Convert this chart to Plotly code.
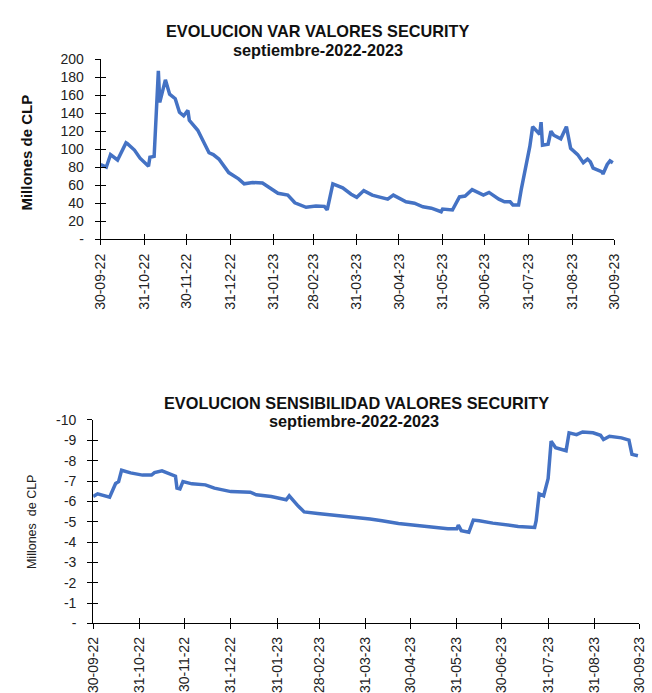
import plotly.graph_objects as go

# ---------------- data ----------------
var_dates = [
    "2022-09-30", "2022-10-04", "2022-10-07", "2022-10-12", "2022-10-18", "2022-10-19",
    "2022-10-24", "2022-10-28", "2022-11-03", "2022-11-04", "2022-11-07", "2022-11-10",
    "2022-11-11", "2022-11-15", "2022-11-18", "2022-11-22", "2022-11-25", "2022-11-28",
    "2022-12-01", "2022-12-02", "2022-12-08", "2022-12-13", "2022-12-16", "2022-12-19",
    "2022-12-23", "2022-12-30", "2023-01-06", "2023-01-10", "2023-01-16", "2023-01-23",
    "2023-01-31", "2023-02-03", "2023-02-10", "2023-02-15", "2023-02-23", "2023-03-02",
    "2023-03-08", "2023-03-10", "2023-03-14", "2023-03-21", "2023-03-27", "2023-03-31",
    "2023-04-05", "2023-04-08", "2023-04-11", "2023-04-17", "2023-04-22", "2023-04-26",
    "2023-05-05", "2023-05-11", "2023-05-17", "2023-05-23", "2023-05-30", "2023-05-31",
    "2023-06-07", "2023-06-12", "2023-06-16", "2023-06-21", "2023-06-29", "2023-07-03",
    "2023-07-10", "2023-07-14", "2023-07-18", "2023-07-20", "2023-07-24", "2023-07-26",
    "2023-07-31", "2023-08-01", "2023-08-03", "2023-08-08", "2023-08-09", "2023-08-10",
    "2023-08-14", "2023-08-16", "2023-08-18", "2023-08-23", "2023-08-27", "2023-08-30",
    "2023-09-04", "2023-09-08", "2023-09-11", "2023-09-13", "2023-09-15", "2023-09-21",
    "2023-09-22", "2023-09-25", "2023-09-27", "2023-09-29",
]
var_values = [
    83, 80, 94, 88, 107, 106,
    99, 90, 81, 91, 92, 187,
    152, 177, 161, 156, 141, 137,
    143, 132, 121, 104, 96, 94,
    89, 74, 67, 61.5, 63, 62.5,
    54, 51, 49, 40.5, 35.5, 37,
    36.5, 32.5, 61.5, 57, 50, 46.5,
    54, 52, 49, 46.5, 44.5, 49,
    41.5, 40, 36, 34.5, 30.5, 33.5,
    32.5, 47, 48, 55, 49, 52,
    44.5, 41.5, 41.5, 38, 38, 56,
    97.5, 103, 125, 116.5, 130, 104.5,
    105.5, 120, 115.5, 111.5, 125, 101,
    94, 85, 89, 86, 79, 75,
    72.5, 83, 87, 85,
]

sens_dates = [
    "2022-09-30", "2022-10-03", "2022-10-11", "2022-10-15", "2022-10-17", "2022-10-19",
    "2022-10-25", "2022-11-02", "2022-11-08", "2022-11-10", "2022-11-15", "2022-11-22",
    "2022-11-24", "2022-11-25", "2022-11-27", "2022-11-29", "2022-12-05", "2022-12-14",
    "2022-12-20", "2022-12-31", "2023-01-13", "2023-01-17", "2023-01-27", "2023-02-06",
    "2023-02-08", "2023-02-14", "2023-02-18", "2023-02-27", "2023-03-08", "2023-03-17",
    "2023-03-25", "2023-04-01", "2023-04-03", "2023-04-11", "2023-04-22", "2023-05-03",
    "2023-05-16", "2023-05-25", "2023-05-31", "2023-06-01", "2023-06-03", "2023-06-08",
    "2023-06-11", "2023-06-15", "2023-06-24", "2023-07-05", "2023-07-11", "2023-07-22",
    "2023-07-23", "2023-07-25", "2023-07-28", "2023-07-31", "2023-08-02", "2023-08-05",
    "2023-08-12", "2023-08-14", "2023-08-19", "2023-08-23", "2023-08-30", "2023-09-04",
    "2023-09-06", "2023-09-10", "2023-09-18", "2023-09-23", "2023-09-25", "2023-09-29",
]
sens_values = [
    -6.24, -6.37, -6.21, -6.88, -6.97, -7.53,
    -7.4, -7.29, -7.29, -7.41, -7.5, -7.32,
    -7.24, -6.65, -6.61, -6.97, -6.86, -6.81,
    -6.65, -6.48, -6.45, -6.32, -6.24, -6.08,
    -6.27, -5.77, -5.48, -5.4, -5.34, -5.28,
    -5.2, -5.16, -5.13, -5.05, -4.91, -4.83,
    -4.72, -4.65, -4.65, -4.83, -4.56, -4.48,
    -5.08, -5.05, -4.93, -4.83, -4.77, -4.72,
    -5.05, -6.37, -6.27, -7.12, -8.96, -8.64,
    -8.49, -9.37, -9.28, -9.41, -9.37, -9.25,
    -9.04, -9.2, -9.12, -9.01, -8.31, -8.24,
]

tick_dates = ["2022-09-30", "2022-10-31", "2022-11-30", "2022-12-31", "2023-01-31",
              "2023-02-28", "2023-03-31", "2023-04-30", "2023-05-31", "2023-06-30",
              "2023-07-31", "2023-08-31", "2023-09-30"]
tick_labels = ["30-09-22", "31-10-22", "30-11-22", "31-12-22", "31-01-23", "28-02-23",
               "31-03-23", "30-04-23", "31-05-23", "30-06-23", "31-07-23", "31-08-23",
               "30-09-23"]

var_ticks = [0, 20, 40, 60, 80, 100, 120, 140, 160, 180, 200]
var_ticktext = ["-", "20", "40", "60", "80", "100", "120", "140", "160", "180", "200"]
sens_ticks = [0, -1, -2, -3, -4, -5, -6, -7, -8, -9, -10]
sens_ticktext = ["-", "-1", "-2", "-3", "-4", "-5", "-6", "-7", "-8", "-9", "-10"]

title1 = "EVOLUCION VAR VALORES SECURITY"
title2 = "EVOLUCION SENSIBILIDAD VALORES SECURITY"
subtitle = "septiembre-2022-2023"
ytitle_top = "Millones de CLP"
ytitle_bottom = "Millones  de CLP"

# ---------------- layout helpers ----------------
W, H = 652, 693
FONT = "Liberation Sans, Arial, sans-serif"
LINE_COLOR = "#4472C4"


def fx(p):
    return p / W


def fy(p):
    return 1 - p / H


fig = go.Figure()

fig.add_trace(go.Scatter(x=var_dates, y=var_values, mode="lines",
                         line=dict(color=LINE_COLOR, width=3.5),
                         xaxis="x", yaxis="y", showlegend=False))
fig.add_trace(go.Scatter(x=sens_dates, y=sens_values, mode="lines",
                         line=dict(color=LINE_COLOR, width=3.5),
                         xaxis="x2", yaxis="y2", showlegend=False))
# invisible traces to materialize the overlay axes (inner halves of crossing ticks)
fig.add_trace(go.Scatter(x=var_dates, y=var_values, mode="lines", opacity=0,
                         line=dict(width=0), hoverinfo="skip",
                         xaxis="x3", yaxis="y3", showlegend=False))
fig.add_trace(go.Scatter(x=sens_dates, y=sens_values, mode="lines", opacity=0,
                         line=dict(width=0), hoverinfo="skip",
                         xaxis="x4", yaxis="y4", showlegend=False))

top_xdom = [fx(95), fx(621.5)]
top_ydom = [fy(236.7), fy(52.3)]
bot_xdom = [fx(87.3), fx(647.3)]
bot_ydom = [fy(630), fy(421.7)]
xrange_ = ["2022-09-30", "2023-09-30"]

xcommon = dict(type="date", range=xrange_, tickmode="array", tickvals=tick_dates,
               showgrid=False, zeroline=False, fixedrange=True)
ycommon = dict(showgrid=False, zeroline=False, fixedrange=True, tickmode="array")

tickfont = dict(family=FONT, size=14, color="#222222")

fig.update_layout(
    width=W, height=H, autosize=False,
    margin=dict(l=0, r=0, t=0, b=0),
    paper_bgcolor="white", plot_bgcolor="white",
    font=dict(family=FONT, color="#222222"),
    xaxis=dict(**xcommon, domain=top_xdom, anchor="y", ticktext=tick_labels,
               tickangle=-90, ticks="outside", ticklen=5, tickcolor="black",
               showline=True, linecolor="black", linewidth=1,
               tickfont=tickfont, ticklabelstandoff=3),
    yaxis=dict(**ycommon, domain=top_ydom, anchor="x", range=[0, 200],
               tickvals=var_ticks, ticktext=var_ticktext,
               ticks="outside", ticklen=5, tickcolor="black",
               showline=True, linecolor="black", linewidth=1,
               tickfont=tickfont, ticklabelstandoff=8),
    xaxis3=dict(**xcommon, domain=top_xdom, anchor="y3", overlaying="x",
                ticks="inside", ticklen=5, tickcolor="black",
                showticklabels=False, showline=False),
    yaxis3=dict(**ycommon, domain=top_ydom, anchor="x3", overlaying="y",
                range=[0, 200], tickvals=var_ticks,
                ticks="inside", ticklen=5, tickcolor="black",
                showticklabels=False, showline=False),
    xaxis2=dict(**xcommon, domain=bot_xdom, anchor="y2", ticktext=tick_labels,
                tickangle=-90, ticks="outside", ticklen=5, tickcolor="black",
                showline=True, linecolor="black", linewidth=1,
                tickfont=tickfont, ticklabelstandoff=2),
    yaxis2=dict(**ycommon, domain=bot_ydom, anchor="x2", range=[0, -10],
                tickvals=sens_ticks, ticktext=sens_ticktext,
                ticks="outside", ticklen=5, tickcolor="black",
                showline=True, linecolor="black", linewidth=1,
                tickfont=tickfont, ticklabelstandoff=8),
    xaxis4=dict(**xcommon, domain=bot_xdom, anchor="y4", overlaying="x2",
                ticks="inside", ticklen=5, tickcolor="black",
                showticklabels=False, showline=False),
    yaxis4=dict(**ycommon, domain=bot_ydom, anchor="x4", overlaying="y2",
                range=[0, -10], tickvals=sens_ticks,
                ticks="inside", ticklen=5, tickcolor="black",
                showticklabels=False, showline=False),
)

ann = []
tfont = dict(family=FONT, size=16.3, color="#111111")
for text, cx, cy in [(f"<b>{title1}</b>", 317.5, 24), (f"<b>{subtitle}</b>", 317.5, 42.5),
                     (f"<b>{title2}</b>", 357, 404), (f"<b>{subtitle}</b>", 355, 422.5)]:
    ann.append(dict(text=text, x=fx(cx), y=fy(cy), xref="paper", yref="paper",
                    xanchor="center", yanchor="middle", showarrow=False, font=tfont,
                    borderpad=0))
ann.append(dict(text=f"<b>{ytitle_top}</b>", x=fx(19), y=fy(148.5), xref="paper", yref="paper",
                xanchor="center", yanchor="middle", showarrow=False, textangle=-90,
                font=dict(family=FONT, size=15, color="#111111")))
ann.append(dict(text=ytitle_bottom, x=fx(25.3), y=fy(525.5), xref="paper", yref="paper",
                xanchor="center", yanchor="middle", showarrow=False, textangle=-90,
                font=dict(family=FONT, size=12.5, color="#222222")))
fig.update_layout(annotations=ann)

fig.write_html(
    "out.html",
    config={"displayModeBar": False, "staticPlot": True},
    post_script=("document.documentElement.style.margin='0px';"
                 "document.documentElement.style.padding='0px';"
                 "document.documentElement.style.overflow='hidden';"
                 "document.body.style.margin='0px';"
                 "document.body.style.padding='0px';"
                 "document.body.style.overflow='hidden';"),
)
